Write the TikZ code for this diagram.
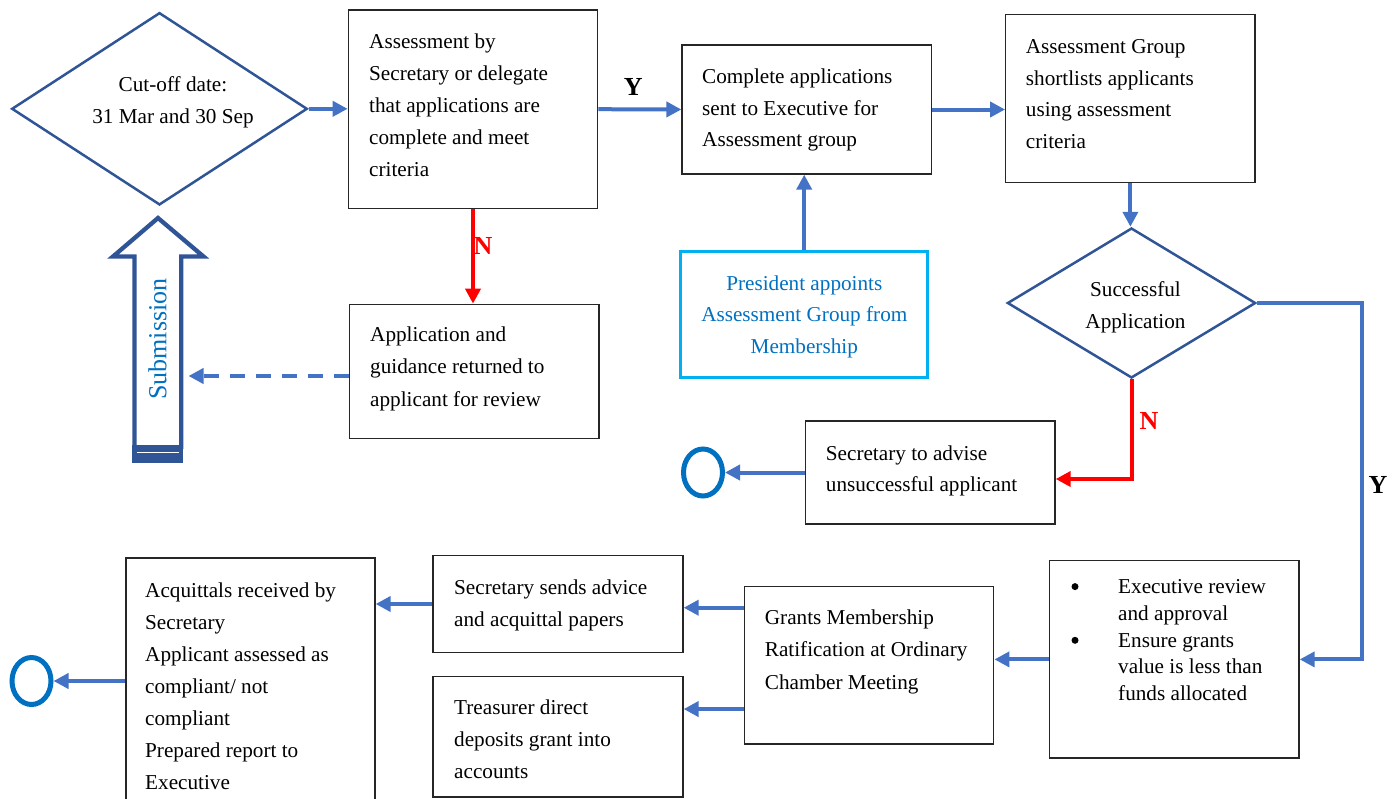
\documentclass[tikz,border=0pt]{standalone}
\usepackage{fontspec}
\setmainfont{Liberation Serif}
\usetikzlibrary{arrows.meta,shapes.geometric,calc}
\definecolor{conn}{HTML}{4472C4}
\definecolor{diacol}{HTML}{2F5597}
\definecolor{endc}{HTML}{0070C0}
\definecolor{presb}{HTML}{00B0F0}
\definecolor{prest}{HTML}{0070C0}
\newcommand\fz[1]{\fontsize{21.2pt}{#1pt}\selectfont}
\newcommand\fst{\rule{0pt}{22pt}}
\newcommand\bul{\llap{\makebox[46.7pt][l]{\tikz[baseline=0pt]\fill (3.6pt,6.8pt) circle[radius=3.5pt];}}}
\begin{document}
\begin{tikzpicture}[x=1pt,y=-1pt,
  box/.style={draw=black!85, line width=1.3pt, inner sep=0pt},
  presbox/.style={draw=presb, line width=2.8pt, inner sep=0pt},
  txt/.style={inner sep=0pt, anchor=north west, align=left, font={\fz{31.9}}},
  ctxt/.style={inner sep=0pt, anchor=north, align=center, font={\fz{31.9}}},
  arr/.style={draw=conn, line width=4pt, -{Triangle[length=15pt,width=15pt]}},
  redarr/.style={draw=red, line width=4pt, -{Triangle[length=15pt,width=15pt]}},
  dia/.style={diamond, draw=diacol, line width=2.5pt, inner sep=0pt},
  endnode/.style={ellipse, draw=endc, line width=5pt, minimum width=39pt, minimum height=47pt, inner sep=0pt},
  lbl/.style={font=\fontsize{26pt}{30pt}\selectfont\bfseries, inner sep=0pt},
  subline/.style={draw=diacol, line width=4.3pt, fill=white}
]
\useasboundingbox (0,0) rectangle (1400,798);
\clip (0,0) rectangle (1400,798);

% decisions
\node[dia, minimum width=295.6pt, minimum height=192.3pt] (D1) at (159.5,108.8) {};
\node[ctxt, font={\fz{31.7}}] (D1t) at (173,69.5) {\fst Cut-off date:\\31 Mar and 30 Sep};
\node[dia, minimum width=248.3pt, minimum height=150pt] (D2) at (1131.5,303) {};
\node[ctxt, font={\fz{32.5}}] (D2t) at (1135.5,274) {\fst Successful\\Application};

% boxes
\node[box, minimum width=249.4pt, minimum height=198.3pt] (A) at (473,109.2) {};
\node[txt] (At) at (369,26.2) {\fst Assessment by\\Secretary or delegate\\that applications are\\complete and meet\\criteria};
\node[box, minimum width=249.7pt, minimum height=129pt] (B) at (806.9,109.5) {};
\node[txt, font={\fz{31.7}}] (Bt) at (702,61.2) {\fst Complete applications\\sent to Executive for\\Assessment group};
\node[box, minimum width=249.3pt, minimum height=168.1pt] (C) at (1130.4,98.6) {};
\node[txt, font={\fz{31.8}}] (Ct) at (1025.7,31) {\fst Assessment Group\\shortlists applicants\\using assessment\\criteria};
\node[box, minimum width=249.7pt, minimum height=134pt] (J) at (474.2,371.3) {};
\node[txt, font={\fz{32.2}}] (Jt) at (370,319.5) {\fst Application and\\guidance returned to\\applicant for review};
\node[presbox, minimum width=247.3pt, minimum height=126pt] (K) at (804.2,314.5) {};
\node[ctxt, font={\fz{31.7}}, text=prest] (Kt) at (804.3,267.8) {\fst President appoints\\Assessment Group from\\Membership};
\node[box, minimum width=249.3pt, minimum height=103pt] (D) at (930.4,472.5) {};
\node[txt, font={\fz{31}}] (Dt) at (825.7,437.8) {\fst Secretary to advise\\unsuccessful applicant};
\node[box, minimum width=249.5pt, minimum height=197.3pt] (E) at (1174.3,659.4) {};
\node[txt, font={\fz{26.85}}] (Et) at (1118,571.2) {\fst\bul Executive review\\and approval\\\bul Ensure grants\\value is less than\\funds allocated};
\node[box, minimum width=249.2pt, minimum height=157.3pt] (F) at (869.2,665.4) {};
\node[txt, font={\fz{32.5}}] (Ft) at (764.7,602.2) {\fst Grants Membership\\Ratification at Ordinary\\Chamber Meeting};
\node[box, minimum width=250pt, minimum height=96.6pt] (G) at (558,604) {};
\node[txt, font={\fz{32.3}}] (Gt) at (454,572.2) {\fst Secretary sends advice\\and acquittal papers};
\node[box, minimum width=250pt, minimum height=120.3pt] (H) at (558,736.9) {};
\node[txt, font={\fz{32}}] (Ht) at (454,692.5) {\fst Treasurer direct\\deposits grant into\\accounts};
\node[box, minimum width=249pt, minimum height=272pt] (I) at (250.5,694) {};
\node[txt, font={\fz{32}}] (It) at (145,575.2) {\fst Acquittals received by\\Secretary\\Applicant assessed as\\compliant/ not\\compliant\\Prepared report to\\Executive};

% end markers
\node[endnode] (end1) at (703,472.5) {};
\node[endnode] (end2) at (31.5,681) {};

% submission arrow
\draw[subline] (134.5,449) -- (134.5,256.5) -- (113,256.5) -- (158,218) -- (203.5,256.5) -- (181.2,256.5) -- (181.2,449);
\fill[diacol] (132.3,445) rectangle (183.4,462.7);
\draw[white, line width=1.6pt] (136.7,452.5) -- (179,452.5);
\node[inner sep=0pt, rotate=90, text=endc, font=\fontsize{26pt}{30pt}\selectfont] (Sub) at (157.5,339) {Submission};

% helper coordinates
\coordinate (yc) at (1362,0);
\coordinate (subR) at (188.5,376);
\path ([yshift=-3.7pt]G.east) coordinate (gE);
\path ([yshift=27.85pt]H.east) coordinate (hE);
\path ([yshift=-6.5pt]D.east) coordinate (dE);

% connectors
\draw[arr] (D1.east) -- (D1.east -| A.west);
\draw[arr] (A.east) -- (B.west);
\node[lbl] (Y1) at (633.3,87.3) {Y};
\draw[arr] (B.east) -- (B.east -| C.west);
\draw[arr] (C.south) -- (C.south |- D2.north);
\draw[arr] (K.north) -- (K.north |- B.south);
\draw[redarr] (A.south) -- (A.south |- J.north);
\node[lbl, text=red] (N1) at (483,245.7) {N};
\draw[arr, dash pattern=on 15pt off 11pt] (subR -| J.west) -- (subR);
\draw[arr] (D2.east) -- (D2.east -| yc) |- (E.east);
\node[lbl] (Y2) at (1378,485) {Y};
\draw[redarr] (D2.south) |- (dE);
\node[lbl, text=red] (N2) at (1149,421) {N};
\draw[arr] (D.west) -- (end1.east);
\draw[arr] (E.west) -- (E.west -| F.east);
\draw[arr] (gE -| F.west) -- (gE);
\draw[arr] (hE -| F.west) -- (hE);
\draw[arr] (G.west) -- (G.west -| I.east);
\draw[arr] (end2.east -| I.west) -- (end2.east);
\end{tikzpicture}
\end{document}
